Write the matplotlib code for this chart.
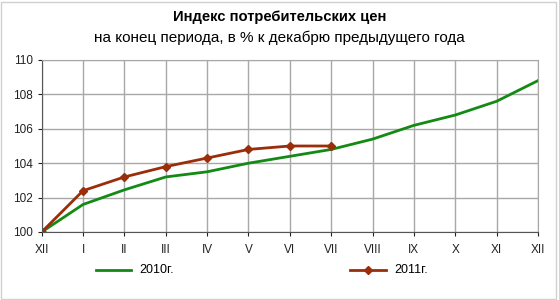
import numpy as np
import matplotlib.pyplot as plt
from matplotlib.lines import Line2D

plt.rcParams['font.family'] = ['Liberation Sans', 'DejaVu Sans']

# months on the x axis
months = ['XII', 'I', 'II', 'III', 'IV', 'V', 'VI', 'VII', 'VIII', 'IX', 'X', 'XI', 'XII']
# consumer price index, % to December of previous year
cpi2010 = [100.0, 101.6, 102.45, 103.2, 103.5, 104.0, 104.4, 104.8, 105.4, 106.2, 106.8, 107.6, 108.8]
cpi2011 = [100.0, 102.4, 103.2, 103.8, 104.3, 104.8, 105.0, 105.0]
yticks = [100, 102, 104, 106, 108, 110]

green = '#138a13'
brown = '#9a2d0a'

fig = plt.figure(figsize=(5.59, 3.0), dpi=100)
ax = fig.add_axes([0.0746, 0.2267, 0.8878, 0.5733])

x = np.arange(len(months))
ax.plot(x, cpi2010, color=green, lw=2)
ax.plot(x[:len(cpi2011)], cpi2011, color=brown, lw=2, marker='D', ms=4.5)

ax.set_xlim(0, len(months) - 1)
ax.set_ylim(100, 110)
ax.set_xticks(x)
ax.set_xticklabels(months)
ax.set_yticks(yticks)
ax.grid(True, color='#a8a8a8', lw=1)
ax.set_axisbelow(True)
ax.tick_params(axis='both', labelsize=8.5, colors='#222222', length=3, width=0.8)
ax.tick_params(axis='x', pad=6)
for s in ['top', 'right']:
    ax.spines[s].set_color('#a8a8a8')
for s in ['left', 'bottom']:
    ax.spines[s].set_color('#555555')

fig.text(0.5, 0.943, 'Индекс потребительских цен', ha='center', va='center',
         fontsize=10.6, fontweight='bold')
fig.text(0.5, 0.873, 'на конец периода, в % к декабрю предыдущего года',
         ha='center', va='center', fontsize=11)

# legend at the bottom
fig.add_artist(Line2D([0.172, 0.235], [0.1, 0.1], color=green, lw=2))
fig.text(0.25, 0.1, '2010г.', va='center', fontsize=9)
fig.add_artist(Line2D([0.627, 0.69], [0.1, 0.1], color=brown, lw=2))
fig.add_artist(Line2D([0.6585], [0.1], color=brown, marker='D', ms=4.5))
fig.text(0.705, 0.1, '2011г.', va='center', fontsize=9)

# light frame around the figure
fig.add_artist(plt.Rectangle((0.002, 0.005), 0.993, 0.99, transform=fig.transFigure,
                             fill=False, ec='#d0d0d0', lw=1))

fig.savefig('out.png', dpi=100)
